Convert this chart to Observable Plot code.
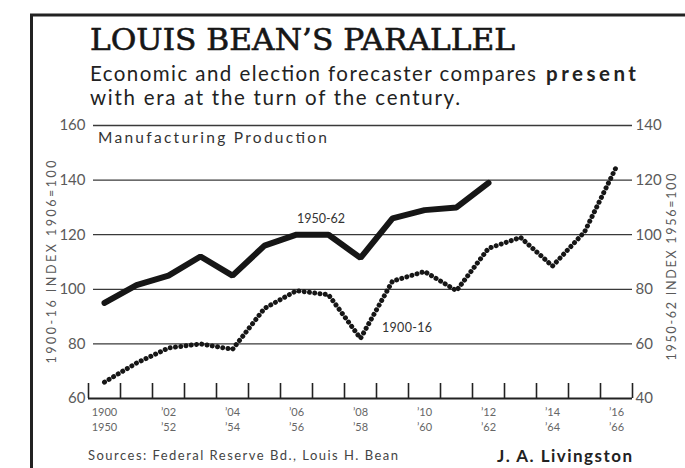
<!DOCTYPE html>
<html><head><meta charset="utf-8">
<script src="https://cdn.jsdelivr.net/npm/d3@7"></script>
<script src="https://cdn.jsdelivr.net/npm/@observablehq/plot@0.6"></script>
<style>
html,body{margin:0;padding:0;background:#fff;}
#chart{position:relative;width:685px;height:468px;overflow:hidden;}
</style></head><body><div id="chart"></div>
<script>
// ---- data ----
const years1900_16 = [1900,1901,1902,1903,1904,1905,1906,1907,1908,1909,1910,1911,1912,1913,1914,1915,1916];
const index1900_16 = [66,73,78.5,80,78,93,99.5,98,82,103,106.5,99.5,115,119,108.5,121,145];   // left scale, 1906=100
const years1950_62 = [1950,1951,1952,1953,1954,1955,1956,1957,1958,1959,1960,1961,1962];
const index1950_62 = [75,81.5,85,92,85,96,100,100,91.5,106,109,110,119];               // right scale, 1956=100
const labelYears = [1900,1902,1904,1906,1908,1910,1912,1914,1916];
const labels1900 = ["1900","’02","’04","’06","’08","’10","’12","’14","’16"];
const labels1950 = ["1950","’52","’54","’56","’58","’60","’62","’64","’66"];
const leftTicks = [60,80,100,120,140,160];
const rightOffset = 20;   // right axis reads 20 below the left axis
const yearShift = 50;     // 1950 aligned with 1900

const early = years1900_16.map((y,i)=>({x:y, v:index1900_16[i]}));
const late = years1950_62.map((y,i)=>({x:y - yearShift, v:index1950_62[i] + rightOffset}));
const boundaries = years1900_16.map(y=>y-0.5).concat([years1900_16[years1900_16.length-1]+0.5]);
const map1900 = new Map(labelYears.map((y,i)=>[y,labels1900[i]]));
const map1950 = new Map(labelYears.map((y,i)=>[y,labels1950[i]]));

const ink = "#161616", grey = "#5a5a5a";
const chart = Plot.plot({
  width: 685, height: 468,
  marginLeft: 88, marginRight: 53, marginTop: 125, marginBottom: 70,
  style: {background: "transparent", fontFamily: "Lato, 'Noto Sans', sans-serif"},
  x: {domain: [1899.5, 1916.5]},
  y: {domain: [60, 160]},
  marks: [
    Plot.ruleY(leftTicks.filter(d=>d>60), {stroke:"#3a3a3a", strokeWidth:1.3, insetLeft:5}),
    Plot.ruleY([60], {stroke:"#222", strokeWidth:2}),
    Plot.ruleX(boundaries, {stroke:"#222", strokeWidth:1.6, insetTop:258}),
    Plot.axisY({anchor:"left", ticks:leftTicks, tickSize:0, tickPadding:3, fontSize:15, color:grey, label:null}),
    Plot.axisY({anchor:"right", ticks:leftTicks, tickFormat:d=>d-rightOffset, tickSize:0, tickPadding:3, fontSize:15, color:grey, label:null}),
    Plot.axisX({ticks:labelYears, tickFormat:d=>map1900.get(d), tickSize:0, tickPadding:10, fontSize:11, color:"#666", label:null}),
    Plot.axisX({ticks:labelYears, tickFormat:d=>map1950.get(d), tickSize:0, tickPadding:25, fontSize:11, color:"#666", label:null}),
    Plot.line(early, {x:"x", y:"v", stroke:ink, strokeWidth:5, strokeDasharray:"0.01 5.3", strokeLinecap:"round"}),
    Plot.line(late, {x:"x", y:"v", stroke:ink, strokeWidth:6, strokeLinejoin:"miter"})
  ]
});
document.getElementById("chart").appendChild(chart);

const svg = d3.select(chart);
svg.append("line").attr("x1",30).attr("x2",685).attr("y1",15).attr("y2",15).attr("stroke","#222").attr("stroke-width",3);
svg.append("line").attr("x1",31.5).attr("x2",31.5).attr("y1",14).attr("y2",468).attr("stroke","#222").attr("stroke-width",3);

function txt(s, x, y, o) {
  const t = svg.append("text").text(s).attr("x",x).attr("y",y)
    .attr("font-family", o.font || "Lato, sans-serif")
    .attr("font-size", o.size).attr("fill", o.fill || ink)
    .attr("font-weight", o.weight || "normal")
    .attr("text-anchor", o.anchor || "start");
  if (o.len) t.attr("textLength", o.len).attr("lengthAdjust", o.adj || "spacing");
  if (o.rot) t.attr("transform", `rotate(-90 ${x} ${y})`).attr("dominant-baseline","central");
  if (o.sw) t.attr("stroke", o.fill || ink).attr("stroke-width", o.sw);
  return t;
}
txt("LOUIS BEAN’S PARALLEL", 90, 50, {font:"'DejaVu Serif', serif", size:29, len:425, adj:"spacingAndGlyphs", sw:0.6});
txt("Economic and election forecaster compares", 90, 81, {size:20.5, len:446, fill:"#222"});
txt("present", 546, 81, {size:20.5, len:90, weight:"bold", fill:"#222"});
txt("with era at the turn of the century.", 90, 105, {size:20.5, len:370, fill:"#222"});
txt("Manufacturing Production", 98, 143, {size:15.5, len:229, fill:"#333"});
txt("1950-62", 321, 223, {size:12.5, len:48, anchor:"middle", fill:"#333"});
txt("1900-16", 407, 332, {size:12.5, len:50, anchor:"middle", fill:"#333"});
txt("1900-16 INDEX 1906=100", 51, 262, {size:12.5, len:203, anchor:"middle", rot:true, fill:grey});
txt("1950-62 INDEX 1956=100", 671, 267, {size:12.5, len:187, anchor:"middle", rot:true, fill:grey});
txt("Sources: Federal Reserve Bd., Louis H. Bean", 88, 460, {size:13, len:310, fill:"#444"});
txt("J. A. Livingston", 497, 462, {size:17, len:135, weight:"bold", fill:"#222"});
</script></body></html>
